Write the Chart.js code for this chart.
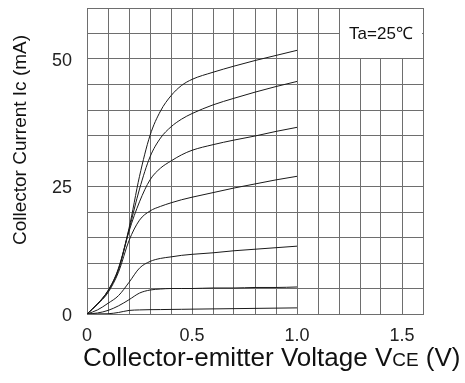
<!DOCTYPE html>
<html>
<head>
<meta charset="utf-8">
<script src="https://cdn.jsdelivr.net/npm/chart.js@4/dist/chart.umd.min.js"></script>
<style>
html,body{margin:0;padding:0;background:#fff;}
canvas{display:block;}
</style>
</head>
<body>
<canvas id="c" width="465" height="383"></canvas>
<script>
// Collector-emitter voltage (V)
const vce = [0, 0.05, 0.1, 0.15, 0.2, 0.25, 0.3, 0.35, 0.4, 0.45, 0.5, 0.6, 0.7, 0.8, 0.9, 1.0];
// Collector current (mA) for each base-current curve, top to bottom
const ic1 = [0, 2.0, 4.6, 9.0, 16.8, 27.0, 35.0, 39.8, 42.8, 44.8, 46.0, 47.4, 48.6, 49.7, 50.7, 51.7];
const ic2 = [0, 2.0, 4.5, 8.8, 16.5, 24.5, 30.8, 34.5, 36.7, 38.2, 39.3, 41.0, 42.3, 43.5, 44.6, 45.6];
const ic3 = [0, 2.0, 4.5, 8.7, 16.2, 22.0, 26.3, 28.6, 30.0, 31.2, 32.1, 33.2, 34.1, 34.9, 35.8, 36.6];
const ic4 = [0, 1.9, 4.2, 8.2, 14.4, 18.4, 20.2, 21.1, 21.8, 22.4, 22.9, 23.8, 24.7, 25.5, 26.3, 27.0];
const ic5 = [0, 0.8, 2.1, 3.6, 6.2, 9.0, 10.3, 10.9, 11.2, 11.5, 11.7, 12.0, 12.4, 12.7, 13.0, 13.3];
const ic6 = [0, 0.2, 0.7, 1.6, 2.8, 4.1, 4.7, 4.9, 5.0, 5.0, 5.0, 5.1, 5.1, 5.2, 5.2, 5.3];
const ic7 = [0, 0.02, 0.05, 0.3, 0.7, 0.8, 0.85, 0.87, 0.9, 0.92, 0.95, 1.0, 1.05, 1.1, 1.15, 1.2];
const curves = [ic1, ic2, ic3, ic4, ic5, ic6, ic7];

const xTickLabels = {0: '0', 5: '0.5', 10: '1.0', 15: '1.5'};
const yTickLabels = {0: '0', 25: '25', 50: '50'};
const yTitle = 'Collector Current Ic (mA)';
const xTitleMain = 'Collector-emitter Voltage V';
const xTitleSub = 'CE';
const xTitleEnd = ' (V)';
const noteText = 'Ta=25\u2103';

const gridColor = '#6e6e6e';
const font = '"Liberation Sans", Arial, sans-serif';

const datasets = curves.map(c => ({
  data: vce.map((v, i) => ({x: v, y: c[i]})),
  borderColor: '#1a1a1a',
  borderWidth: 1,
  pointRadius: 0,
  fill: false,
  cubicInterpolationMode: 'monotone'
}));

const decor = {
  id: 'decor',
  beforeDatasetsDraw(chart) {
    const {ctx, scales: {x, y}} = chart;
    const x1 = x.getPixelForValue(1.2), x2 = x.getPixelForValue(1.6);
    const y1 = y.getPixelForValue(60), y2 = y.getPixelForValue(50);
    ctx.save();
    ctx.fillStyle = '#fff';
    ctx.fillRect(x1 + 1, y1 + 1, x2 - x1 - 2, y2 - y1 - 2);
    ctx.fillStyle = '#111';
    ctx.font = '17px ' + font;
    ctx.textAlign = 'center';
    ctx.textBaseline = 'middle';
    ctx.fillText(noteText, (x1 + x2) / 2, (y1 + y2) / 2 + 1);
    ctx.restore();
  },
  afterDraw(chart) {
    const {ctx} = chart;
    ctx.save();
    ctx.fillStyle = '#111';
    // y title
    ctx.translate(21, 140);
    ctx.rotate(-Math.PI / 2);
    ctx.font = '19px ' + font;
    ctx.textAlign = 'center';
    ctx.textBaseline = 'middle';
    ctx.fillText(yTitle, 0, 0);
    ctx.restore();
    // x title with smaller "CE"
    ctx.save();
    ctx.fillStyle = '#111';
    ctx.textBaseline = 'alphabetic';
    ctx.textAlign = 'left';
    const big = '26px ' + font, small = '19px ' + font;
    ctx.font = big;
    const w1 = ctx.measureText(xTitleMain).width;
    ctx.font = small;
    const w2 = ctx.measureText(xTitleSub).width;
    let sx = 83;
    const by = 366;
    ctx.font = big; ctx.fillText(xTitleMain, sx, by); sx += w1;
    ctx.font = small; ctx.fillText(xTitleSub, sx, by); sx += w2;
    ctx.font = big; ctx.fillText(xTitleEnd, sx, by);
    ctx.restore();
  }
};

new Chart(document.getElementById('c'), {
  type: 'line',
  data: {datasets},
  plugins: [decor],
  options: {
    responsive: false,
    animation: false,
    devicePixelRatio: 1,
    layout: {padding: {left: 0, top: 8, right: 42, bottom: 0}},
    plugins: {legend: {display: false}, tooltip: {enabled: false}, title: {display: false}},
    scales: {
      x: {
        type: 'linear', min: 0, max: 1.6,
        grid: {color: gridColor, lineWidth: 1, drawTicks: false},
        border: {color: gridColor, width: 1},
        ticks: {
          stepSize: 0.1, padding: 11, color: '#222', maxRotation: 0, autoSkip: false,
          font: {family: font, size: 18},
          callback: v => { const k = Math.round(v * 10); return xTickLabels[k] !== undefined ? xTickLabels[k] : ''; }
        },
        afterFit: s => { s.height = 69; s.paddingLeft = 0; s.paddingRight = 0; s.paddingTop = 0; s.paddingBottom = 0; }
      },
      y: {
        type: 'linear', min: 0, max: 60,
        grid: {color: gridColor, lineWidth: 1, drawTicks: false},
        border: {color: gridColor, width: 1},
        ticks: {
          stepSize: 5, padding: 15, color: '#222', autoSkip: false, labelOffset: 2,
          font: {family: font, size: 18},
          callback: v => { const k = Math.round(v); return yTickLabels[k] !== undefined ? yTickLabels[k] : ''; }
        },
        afterFit: s => { s.width = 87; s.paddingTop = 0; s.paddingBottom = 0; s.paddingLeft = 0; s.paddingRight = 0; }
      }
    }
  }
});
</script>
</body>
</html>
